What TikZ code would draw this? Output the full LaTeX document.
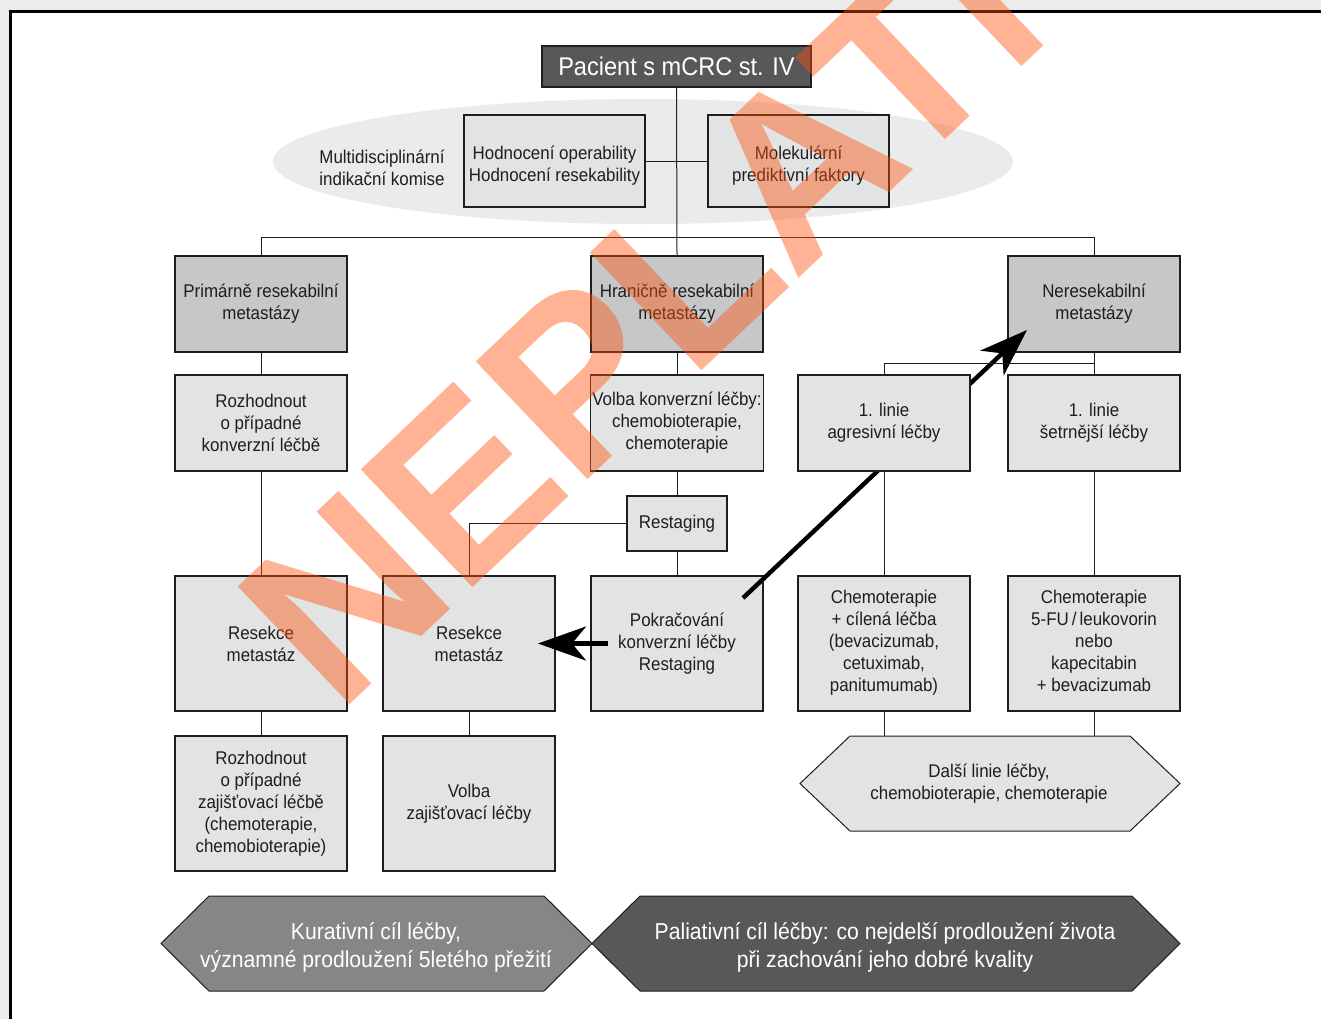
\documentclass[tikz,border=0pt]{standalone}
\usepackage{fontspec}
\setmainfont{Liberation Sans}[FakeStretch=0.92]
\newfontfamily\stampfont{Liberation Sans}
\usetikzlibrary{shapes.geometric,arrows.meta,calc}

\definecolor{darkbox}{HTML}{58585A}
\definecolor{headbox}{HTML}{C6C7C9}
\definecolor{lightbox}{HTML}{E2E3E3}
\definecolor{ellgrey}{HTML}{EBEBEB}
\definecolor{midgoal}{HTML}{868687}
\definecolor{ink}{HTML}{1E1E1E}
\definecolor{outside}{HTML}{ECECEC}
\definecolor{stamp}{HTML}{FF5109}

\tikzset{
  box/.style={draw=ink, line width=0.6pt, fill=lightbox, text=ink, align=center,
    minimum width=86pt, minimum height=48pt, inner sep=1pt,
    font=\fontsize{9.2}{11}\selectfont},
  head/.style={box, fill=headbox},
  tall/.style={box, minimum height=67.5pt},
  titlebox/.style={draw=ink, line width=0.6pt, fill=darkbox, text=white,
    minimum width=134.5pt, minimum height=20.5pt, inner sep=1pt,
    font=\fontsize{12.8}{15}\selectfont},
  plain/.style={align=center, text=ink, inner sep=0pt, font=\fontsize{9.2}{11}\selectfont},
  goaltext/.style={align=center, text=white, inner sep=0pt, font=\fontsize{11.5}{14}\selectfont},
  link/.style={draw=ink, line width=0.5pt},
  hexline/.style={draw=ink, line width=0.5pt},
  bigarrow/.style={draw=black, line width=2.2pt, -{Stealth[length=24pt,width=17pt,inset=7pt]}},
}
% extra depth under the last line lifts a multi-line label a little
\newcommand{\liftlabel}{\rule[-3pt]{0pt}{0pt}}

\begin{document}
\begin{tikzpicture}[x=0.5pt,y=-0.5pt]
\useasboundingbox (0,0) rectangle (1321,1019);

% page background and frame
\fill[outside] (0,0) rectangle (1321,1019);
\fill[white] (10.5,11) rectangle (1321,1019);
\draw[black, line width=1.5pt] (10.5,1019) -- (10.5,11) -- (1321,11);

% committee ellipse
\node[ellipse, fill=ellgrey, minimum width=370pt, minimum height=62.5pt, inner sep=0pt] (mdt) at (643,161.5) {};
\node[plain] (mdtlabel) at (382,168) {Multidisciplinární\\indikační komise};

% top of the tree
\node[titlebox] (pac) at (676.5,66.5) {Pacient s mCRC st. IV};
\node[box, minimum width=90.5pt, minimum height=46pt] (oper) at (554.5,161) {\rule{0pt}{11pt}Hodnocení operability\\Hodnocení resekability};
\node[box, minimum width=90.5pt, minimum height=46pt] (mol) at (798.5,161) {\rule{0pt}{11pt}Molekulární\\prediktivní faktory};

% category heads
\node[head] (prim) at (261,304) {Primárně resekabilní\\metastázy};
\node[head] (hran) at (677,304) {Hraničně resekabilní\\metastázy};
\node[head] (nere) at (1094,304) {Neresekabilní\\metastázy};

% second row
\node[box] (rozh) at (261,423) {Rozhodnout\\o případné\\konverzní léčbě};
\node[box] (volba) at (677,423) {Volba konverzní léčby:\\chemobioterapie,\\chemoterapie};
\node[box] (setr) at (1094,423) {1. linie\\šetrnější léčby};

\node[box, minimum width=50pt, minimum height=27.5pt] (rest) at (677,523.5) {Restaging};

% third row
\node[tall] (res1) at (261,643.5) {Resekce\\metastáz};
\node[tall] (res2) at (469,643.5) {Resekce\\metastáz};
\node[tall] (pokr) at (677,643.5) {Pokračování\\konverzní léčby\\Restaging};
\node[tall] (chemoA) at (884,643.5) {Chemoterapie\\+ cílená léčba\\(bevacizumab,\\cetuximab,\\panitumumab)\liftlabel};
\node[tall] (chemoB) at (1094,643.5) {Chemoterapie\\5-FU\,/\,leukovorin\\nebo\\kapecitabin\\+ bevacizumab\liftlabel};

% fourth row
\node[tall] (zaj1) at (261,803.5) {Rozhodnout\\o případné\\zajišťovací léčbě\\(chemoterapie,\\chemobioterapie)};
\node[tall] (zaj2) at (469,803.5) {Volba\\zajišťovací léčby};

% further lines
\fill[lightbox] (800,783.5) -- (850,736) -- (1130,736) -- (1180,783.5) -- (1130,831) -- (850,831) -- cycle;
\draw[hexline] (800,783.5) -- (850,736) -- (1130,736) -- (1180,783.5) -- (1130,831) -- (850,831) -- cycle;
\node[plain] (dalsi) at (989,784) {Další linie léčby,\\chemobioterapie, chemoterapie};
\coordinate (dalsitop) at (989,736);

% goals
\fill[midgoal] (161,943.5) -- (209,896) -- (544,896) -- (592,943.5) -- (544,991) -- (209,991) -- cycle;
\draw[hexline] (161,943.5) -- (209,896) -- (544,896) -- (592,943.5) -- (544,991) -- (209,991) -- cycle;
\fill[darkbox] (592,943.5) -- (640,896) -- (1132,896) -- (1180,943.5) -- (1132,991) -- (640,991) -- cycle;
\draw[hexline] (592,943.5) -- (640,896) -- (1132,896) -- (1180,943.5) -- (1132,991) -- (640,991) -- cycle;
\node[goaltext] (kur) at (376,947) {Kurativní cíl léčby,\\významné prodloužení 5letého přežití};
\node[goaltext] (pal) at (885,947) {Paliativní cíl léčby: co nejdelší prodloužení života\\při zachování jeho dobré kvality};

% connectors
\coordinate (busy) at (0,237);
\draw[link] (pac.south) -- (hran.north);
\draw[link] (oper.east) -- (mol.west);
\draw[link] (prim.north) -- (prim.north |- busy) -- (nere.north |- busy) -- (nere.north);
\draw[link] (prim.south) -- (rozh.north);
\draw[link] (rozh.south) -- (res1.north);
\draw[link] (res1.south) -- (zaj1.north);
\draw[link] (hran.south) -- (volba.north);
\draw[link] (volba.south) -- (rest.north);
\draw[link] (rest.south) -- (pokr.north);
\draw[link] (rest.west) -| (res2.north);
\draw[link] (res2.south) -- (zaj2.north);
\draw[link] (nere.south) -- (setr.north);
\draw[link] (setr.south) -- (chemoB.north);
\draw[link] (chemoB.south) -- (chemoB.south |- dalsitop);
\draw[link] (chemoA.south) -- (chemoA.south |- dalsitop);

% heavy arrows
\coordinate (backS) at (608,643.5);
\coordinate (backE) at (538,643.5);
\coordinate (upS) at (743,598);
\coordinate (upE) at (1027,330);
\draw[bigarrow] (backS) -- (backE);
\draw[bigarrow] (upS) -- (upE);

% aggressive first line sits above the diagonal arrow
\node[box] (agr) at (884,423) {1. linie\\agresivní léčby};
\draw[link] (agr.north) |- ($(nere.south)!0.5!(setr.north)$);
\draw[link] (agr.south) -- (chemoA.north);

% stamp
\node[text=stamp, opacity=0.43, rotate=43.5, anchor=base west, inner sep=0pt,
      font=\stampfont\bfseries\fontsize{118}{118}\selectfont] (stampnode) at (338,716) {NEPLATNÉ};
\end{tikzpicture}
\end{document}
